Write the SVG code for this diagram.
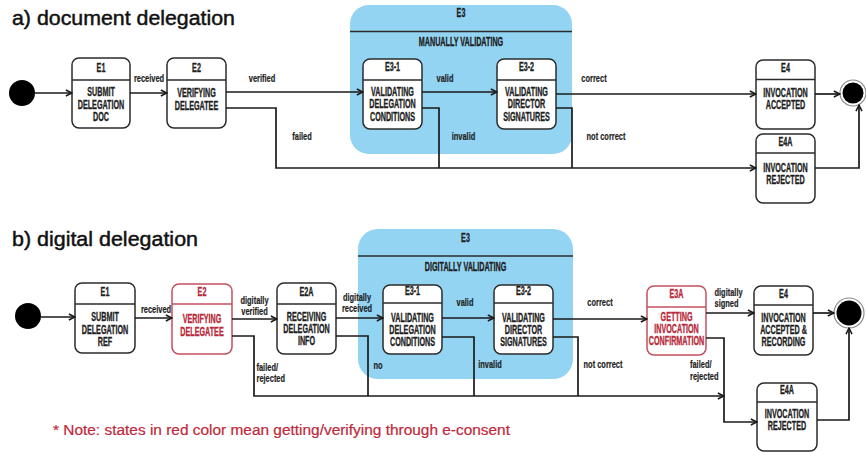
<svg xmlns="http://www.w3.org/2000/svg" width="866" height="452" viewBox="0 0 866 452">
  <defs>
    <marker id="arr" viewBox="0 0 10 10" refX="9.2" refY="5" markerWidth="8" markerHeight="8" orient="auto" markerUnits="userSpaceOnUse">
      <path d="M1.5,1.2 L9,5 L1.5,8.8" fill="none" stroke="#1a1a1a" stroke-width="1.9" stroke-linejoin="miter"/>
    </marker>
    <style>
      .title { font-family: "Liberation Sans", Arial, sans-serif; font-size: 20px; fill: #111; stroke: #111; stroke-width: 0.45; }
      .note { font-family: "Liberation Sans", Arial, sans-serif; font-size: 14px; fill: #c0283b; stroke: #c0283b; stroke-width: 0.2; }
      .box { fill: #fff; stroke: #2b2b2b; stroke-width: 1.5; }
      .box.red { stroke: #c4505c; }
      .div { stroke: #2b2b2b; stroke-width: 1.3; }
      .div.red { stroke: #c4505c; }
      .super { fill: #93d4f3; stroke: none; }
      .st { font-family: "Liberation Sans", Arial, sans-serif; font-weight: bold; font-size: 12px; fill: #1e1e1e; stroke: #1e1e1e; stroke-width: 0.35; text-anchor: middle; }
      .st.red { fill: #b8283a; stroke: #b8283a; }
      .lb { font-family: "Liberation Sans", Arial, sans-serif; font-weight: bold; font-size: 10.5px; fill: #1e1e1e; stroke: #1e1e1e; stroke-width: 0.2; text-anchor: middle; }
      .lb.l { text-anchor: start; }
      .edge { fill: none; stroke: #1a1a1a; stroke-width: 1.7; }
      .edge.a { marker-end: url(#arr); }
      .start { fill: #000; }
      .endring { fill: #fff; stroke: #8a8a8a; stroke-width: 1.2; }
    </style>
  </defs>

  <!-- section titles -->
  <text class="title" x="12" y="25" textLength="223" lengthAdjust="spacingAndGlyphs">a) document delegation</text>
  <text class="title" x="12" y="246" textLength="186" lengthAdjust="spacingAndGlyphs">b) digital delegation</text>

  <!-- ===== a) document delegation ===== -->
  <g id="a-E3">
    <rect class="super" x="350" y="5" width="222" height="149" rx="19"/>
    <line class="div" x1="350" y1="31.5" x2="572" y2="31.5"/>
    <text class="st" transform="translate(461 17) scale(.6 1)">E3</text>
    <text class="st" transform="translate(461 46) scale(.6 1)">MANUALLY VALIDATING</text>
  </g>

  <g id="a-start"><circle class="start" cx="22" cy="93" r="13"/></g>

  <g id="a-E1">
    <rect class="box" x="72" y="58" width="58" height="70" rx="7"/>
    <line class="div" x1="72" y1="80" x2="130" y2="80"/>
    <text class="st" transform="translate(101 71.5) scale(.6 1)">E1</text>
    <text class="st" transform="translate(101 96) scale(.6 1)">SUBMIT</text>
    <text class="st" transform="translate(101 108.5) scale(.6 1)">DELEGATION</text>
    <text class="st" transform="translate(101 121) scale(.6 1)">DOC</text>
  </g>

  <g id="a-E2">
    <rect class="box" x="167" y="58" width="59" height="70" rx="7"/>
    <line class="div" x1="167" y1="80" x2="226" y2="80"/>
    <text class="st" transform="translate(196.5 71.5) scale(.6 1)">E2</text>
    <text class="st" transform="translate(196.5 97) scale(.6 1)">VERIFYING</text>
    <text class="st" transform="translate(196.5 109.5) scale(.6 1)">DELEGATEE</text>
  </g>

  <g id="a-E3-1">
    <rect class="box" x="363" y="59" width="59" height="70" rx="7"/>
    <line class="div" x1="363" y1="80" x2="422" y2="80"/>
    <text class="st" transform="translate(392.5 71) scale(.6 1)">E3-1</text>
    <text class="st" transform="translate(392.5 96) scale(.6 1)">VALIDATING</text>
    <text class="st" transform="translate(392.5 108.3) scale(.6 1)">DELEGATION</text>
    <text class="st" transform="translate(392.5 120.7) scale(.6 1)">CONDITIONS</text>
  </g>

  <g id="a-E3-2">
    <rect class="box" x="497" y="59" width="59" height="70" rx="7"/>
    <line class="div" x1="497" y1="80" x2="556" y2="80"/>
    <text class="st" transform="translate(526.5 71) scale(.6 1)">E3-2</text>
    <text class="st" transform="translate(526.5 96) scale(.6 1)">VALIDATING</text>
    <text class="st" transform="translate(526.5 108.3) scale(.6 1)">DIRECTOR</text>
    <text class="st" transform="translate(526.5 120.7) scale(.6 1)">SIGNATURES</text>
  </g>

  <g id="a-E4">
    <rect class="box" x="756" y="60" width="59" height="69" rx="7"/>
    <line class="div" x1="756" y1="79.5" x2="815" y2="79.5"/>
    <text class="st" transform="translate(785.5 72) scale(.6 1)">E4</text>
    <text class="st" transform="translate(785.5 97) scale(.6 1)">INVOCATION</text>
    <text class="st" transform="translate(785.5 109) scale(.6 1)">ACCEPTED</text>
  </g>

  <g id="a-E4A">
    <rect class="box" x="756" y="134" width="59" height="69" rx="7"/>
    <line class="div" x1="756" y1="153" x2="815" y2="153"/>
    <text class="st" transform="translate(785.5 146) scale(.6 1)">E4A</text>
    <text class="st" transform="translate(785.5 171.5) scale(.6 1)">INVOCATION</text>
    <text class="st" transform="translate(785.5 183.5) scale(.6 1)">REJECTED</text>
  </g>

  <g id="a-end">
    <circle class="endring" cx="853" cy="93" r="13"/>
    <circle class="start" cx="853" cy="93" r="10.5"/>
  </g>

  <g id="a-connectors">
    <path class="edge a" d="M35,93 H72"/>
    <path class="edge a" d="M130,93 H167"/>
    <path class="edge a" d="M226,92 H363"/>
    <path class="edge a" d="M226,108 H276 V168 H756"/>
    <path class="edge a" d="M422,92 H497"/>
    <path class="edge" d="M422,108 H439 V168"/>
    <path class="edge a" d="M556,94 H756"/>
    <path class="edge" d="M556,108 H572 V168"/>
    <path class="edge a" d="M815,94 H840"/>
    <path class="edge a" d="M815,168 H859 V105"/>
    <text class="lb" transform="translate(149 82) scale(.71 1)">received</text>
    <text class="lb" transform="translate(262 82) scale(.71 1)">verified</text>
    <text class="lb" transform="translate(302 140) scale(.71 1)">failed</text>
    <text class="lb" transform="translate(445 82) scale(.71 1)">valid</text>
    <text class="lb" transform="translate(463.5 140) scale(.71 1)">invalid</text>
    <text class="lb" transform="translate(594 82) scale(.71 1)">correct</text>
    <text class="lb" transform="translate(606 140) scale(.71 1)">not correct</text>
  </g>

  <!-- ===== b) digital delegation ===== -->
  <g id="b-E3">
    <rect class="super" x="358" y="229" width="215" height="150" rx="20"/>
    <line class="div" x1="358" y1="256" x2="573" y2="256"/>
    <text class="st" transform="translate(465.5 241.5) scale(.6 1)">E3</text>
    <text class="st" transform="translate(465.5 271) scale(.6 1)">DIGITALLY VALIDATING</text>
  </g>

  <g id="b-start"><circle class="start" cx="28" cy="316" r="13"/></g>

  <g id="b-E1">
    <rect class="box" x="75" y="283" width="60" height="70" rx="7"/>
    <line class="div" x1="75" y1="304" x2="135" y2="304"/>
    <text class="st" transform="translate(105 295.5) scale(.6 1)">E1</text>
    <text class="st" transform="translate(105 321) scale(.6 1)">SUBMIT</text>
    <text class="st" transform="translate(105 333.5) scale(.6 1)">DELEGATION</text>
    <text class="st" transform="translate(105 346) scale(.6 1)">REF</text>
  </g>

  <g id="b-E2">
    <rect class="box red" x="172" y="284" width="60" height="70" rx="7"/>
    <line class="div red" x1="172" y1="304" x2="232" y2="304"/>
    <text class="st red" transform="translate(202 295.5) scale(.6 1)">E2</text>
    <text class="st red" transform="translate(202 323) scale(.6 1)">VERIFYING</text>
    <text class="st red" transform="translate(202 335.5) scale(.6 1)">DELEGATEE</text>
  </g>

  <g id="b-E2A">
    <rect class="box" x="277" y="283" width="59" height="71" rx="7"/>
    <line class="div" x1="277" y1="304" x2="336" y2="304"/>
    <text class="st" transform="translate(306.5 295.5) scale(.6 1)">E2A</text>
    <text class="st" transform="translate(306.5 320.5) scale(.6 1)">RECEIVING</text>
    <text class="st" transform="translate(306.5 332.5) scale(.6 1)">DELEGATION</text>
    <text class="st" transform="translate(306.5 344.5) scale(.6 1)">INFO</text>
  </g>

  <g id="b-E3-1">
    <rect class="box" x="383" y="285" width="59" height="69" rx="7"/>
    <line class="div" x1="383" y1="303" x2="442" y2="303"/>
    <text class="st" transform="translate(412.5 295) scale(.6 1)">E3-1</text>
    <text class="st" transform="translate(412.5 321.5) scale(.6 1)">VALIDATING</text>
    <text class="st" transform="translate(412.5 333.5) scale(.6 1)">DELEGATION</text>
    <text class="st" transform="translate(412.5 345.5) scale(.6 1)">CONDITIONS</text>
  </g>

  <g id="b-E3-2">
    <rect class="box" x="494" y="285" width="59" height="69" rx="7"/>
    <line class="div" x1="494" y1="303" x2="553" y2="303"/>
    <text class="st" transform="translate(523.5 295) scale(.6 1)">E3-2</text>
    <text class="st" transform="translate(523.5 321.5) scale(.6 1)">VALIDATING</text>
    <text class="st" transform="translate(523.5 333.5) scale(.6 1)">DIRECTOR</text>
    <text class="st" transform="translate(523.5 345.5) scale(.6 1)">SIGNATURES</text>
  </g>

  <g id="b-E3A">
    <rect class="box red" x="647" y="286" width="59" height="69" rx="7"/>
    <line class="div red" x1="647" y1="307" x2="706" y2="307"/>
    <text class="st red" transform="translate(676.5 297.5) scale(.6 1)">E3A</text>
    <text class="st red" transform="translate(676.5 320.5) scale(.6 1)">GETTING</text>
    <text class="st red" transform="translate(676.5 332.5) scale(.6 1)">INVOCATION</text>
    <text class="st red" transform="translate(676.5 344.5) scale(.6 1)">CONFIRMATION</text>
  </g>

  <g id="b-E4">
    <rect class="box" x="754" y="286" width="59" height="69" rx="7"/>
    <line class="div" x1="754" y1="305" x2="813" y2="305"/>
    <text class="st" transform="translate(783.5 298) scale(.6 1)">E4</text>
    <text class="st" transform="translate(783.5 322) scale(.6 1)">INVOCATION</text>
    <text class="st" transform="translate(783.5 334) scale(.6 1)">ACCEPTED &amp;</text>
    <text class="st" transform="translate(783.5 346) scale(.6 1)">RECORDING</text>
  </g>

  <g id="b-E4A">
    <rect class="box" x="757" y="383" width="60" height="68" rx="7"/>
    <line class="div" x1="757" y1="402" x2="817" y2="402"/>
    <text class="st" transform="translate(787 394) scale(.6 1)">E4A</text>
    <text class="st" transform="translate(787 418) scale(.6 1)">INVOCATION</text>
    <text class="st" transform="translate(787 430) scale(.6 1)">REJECTED</text>
  </g>

  <g id="b-end">
    <circle class="endring" cx="849" cy="313" r="15"/>
    <circle class="start" cx="849" cy="313" r="12.5"/>
  </g>

  <g id="b-connectors">
    <path class="edge a" d="M41,317 H75"/>
    <path class="edge a" d="M135,318 H172"/>
    <path class="edge a" d="M232,319 H277"/>
    <path class="edge a" d="M232,336 H254 V396 H724"/>
    <path class="edge a" d="M336,318 H383"/>
    <path class="edge" d="M336,336 H368 V396"/>
    <path class="edge a" d="M442,318 H494"/>
    <path class="edge" d="M442,337 H474 V396"/>
    <path class="edge a" d="M553,319 H647"/>
    <path class="edge" d="M553,337 H578 V396"/>
    <path class="edge a" d="M706,313 H754"/>
    <path class="edge a" d="M706,338 H724 V422 H757"/>
    <path class="edge a" d="M813,313 H834"/>
    <path class="edge a" d="M817,420 H849 V328"/>
    <text class="lb" transform="translate(156 313) scale(.71 1)">received</text>
    <text class="lb" transform="translate(254.5 304) scale(.71 1)">digitally</text>
    <text class="lb" transform="translate(254.5 315) scale(.71 1)">verified</text>
    <text class="lb l" transform="translate(256.5 370.5) scale(.71 1)">failed/</text>
    <text class="lb l" transform="translate(256.5 381.5) scale(.71 1)">rejected</text>
    <text class="lb" transform="translate(357 301) scale(.71 1)">digitally</text>
    <text class="lb" transform="translate(357 312) scale(.71 1)">received</text>
    <text class="lb" transform="translate(378 369) scale(.71 1)">no</text>
    <text class="lb" transform="translate(465 306) scale(.71 1)">valid</text>
    <text class="lb" transform="translate(490 368) scale(.71 1)">invalid</text>
    <text class="lb" transform="translate(600 306) scale(.71 1)">correct</text>
    <text class="lb" transform="translate(603 368) scale(.71 1)">not correct</text>
    <text class="lb l" transform="translate(714.5 296) scale(.71 1)">digitally</text>
    <text class="lb l" transform="translate(714.5 306.5) scale(.71 1)">signed</text>
    <text class="lb l" transform="translate(690 368) scale(.71 1)">failed/</text>
    <text class="lb l" transform="translate(690 380) scale(.71 1)">rejected</text>
  </g>

  <text class="note" x="53" y="435" textLength="457" lengthAdjust="spacingAndGlyphs">* Note: states in red color mean getting/verifying through e-consent</text>
</svg>
